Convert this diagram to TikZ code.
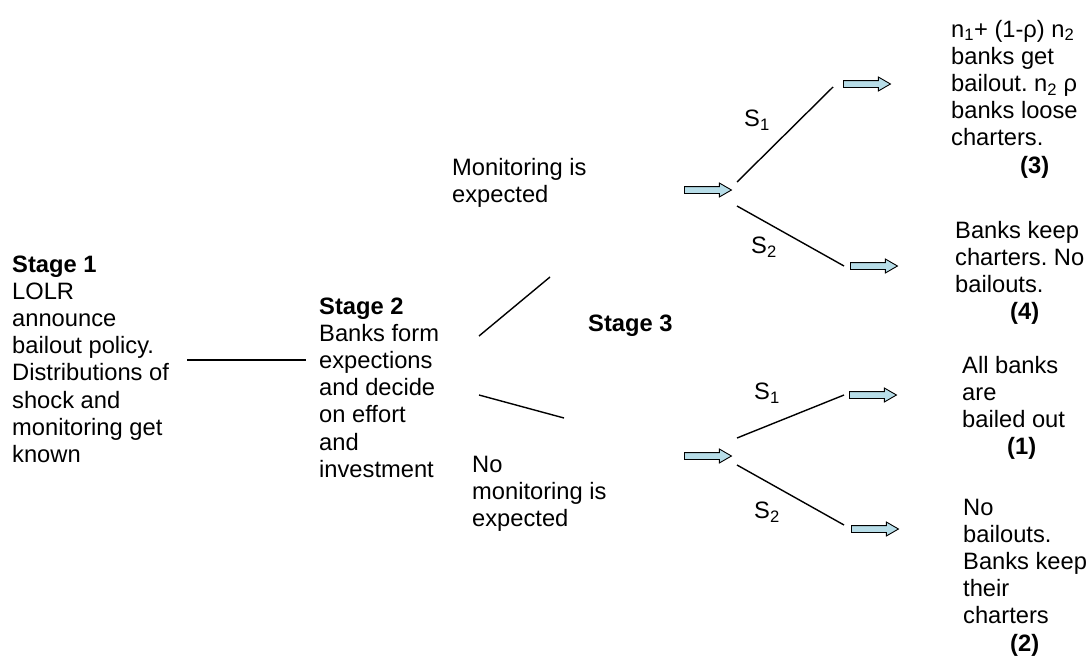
\documentclass[tikz,border=0pt]{standalone}
\usepackage{fontspec}
\setmainfont{Liberation Sans}
\usetikzlibrary{shapes.arrows}
\definecolor{arrowfill}{HTML}{B7DDE8}
\newcommand{\mlines}[1]{\begin{tabular}[t]{@{}l@{}}#1\end{tabular}}
\frenchspacing
\begin{document}
\begin{tikzpicture}[x=1pt,y=-1pt,
  txt/.style={inner sep=0pt, anchor=base west, font=\fontsize{23.7}{27.2}\selectfont},
  slabel/.style={inner sep=0pt, anchor=center, font=\fontsize{23.7}{27.2}\selectfont},
  branch/.style={line width=1.4pt, black},
  blockarrow/.style={single arrow, draw=black, line width=0.9pt, fill=arrowfill,
    minimum height=47pt, minimum width=13pt, inner sep=3pt, single arrow head extend=3.5pt,
    single arrow tip angle=60, anchor=west}
]
\useasboundingbox (0,0) rectangle (1089,656);

% Text blocks
\node[txt] (st1) at (12,272) {\mlines{\textbf{Stage 1}\\LOLR\\announce\\bailout policy.\\Distributions of\\shock and\\monitoring get\\known}};
\node[txt] (st2) at (319,314) {\mlines{\textbf{Stage 2}\\Banks form\\expections\\and decide\\on effort\\and\\investment}};
\node[txt] (st3) at (588,331) {\textbf{Stage 3}};
\node[txt] (mon) at (452,175) {\mlines{Monitoring is\\expected}};
\node[txt] (nomon) at (472,472) {\mlines{No\\monitoring is\\expected}};

\node[txt] (o3) at (951,37) {\mlines{n\textsubscript{1}+ (1-ρ) n\textsubscript{2}\\banks get\\bailout. n\textsubscript{2} ρ\\banks loose\\charters.\\\hspace*{69pt}\textbf{(3)}}};
\node[txt] (o4) at (955,238) {\mlines{Banks keep\\charters. No\\bailouts.\\\hspace*{55pt}\textbf{(4)}}};
\node[txt] (o1) at (962,373) {\mlines{All banks\\are\\bailed out\\\hspace*{45pt}\textbf{(1)}}};
\node[txt] (o2) at (963,515) {\mlines{No\\bailouts.\\Banks keep\\their\\charters\\\hspace*{47pt}\textbf{(2)}}};

% S labels
\node[slabel] (s1a) at (757,120) {S\textsubscript{1}};
\node[slabel] (s2a) at (764,247) {S\textsubscript{2}};
\node[slabel] (s1b) at (767,393) {S\textsubscript{1}};
\node[slabel] (s2b) at (767,512) {S\textsubscript{2}};

% Block arrows
\node[blockarrow] (amon) at (684,190) {};
\node[blockarrow] (anomon) at (684,456) {};
\node[blockarrow] (a3) at (843,84) {};
\node[blockarrow] (a4) at (850,266) {};
\node[blockarrow] (a1) at (849,395) {};
\node[blockarrow] (a2) at (851,529) {};

% Branch end points
\coordinate (l1a) at (187,360);
\coordinate (l1b) at (306,360);
\coordinate (upA) at (479,336);
\coordinate (upB) at (550,277);
\coordinate (dnA) at (479,395);
\coordinate (dnB) at (564,418);
\coordinate (t1a) at (737,182);
\coordinate (t1b) at (833,87);
\coordinate (t2a) at (737,206);
\coordinate (t2b) at (844,266);
\coordinate (b1a) at (737,438);
\coordinate (b1b) at (844,395);
\coordinate (b2a) at (737,465);
\coordinate (b2b) at (844,525);

\draw[branch] (l1a) -- (l1b);
\draw[branch] (upA) -- (upB);
\draw[branch] (dnA) -- (dnB);
\draw[branch] (t1a) -- (t1b);
\draw[branch] (t2a) -- (t2b);
\draw[branch] (b1a) -- (b1b);
\draw[branch] (b2a) -- (b2b);
\end{tikzpicture}
\end{document}
